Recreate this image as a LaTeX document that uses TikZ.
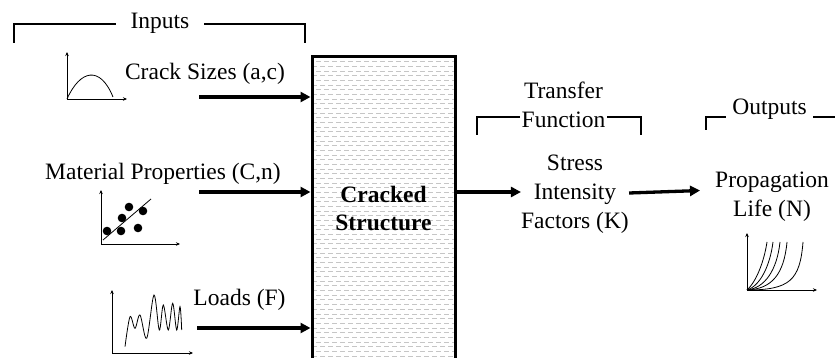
\documentclass[tikz,border=0pt]{standalone}
\usepackage{fontspec}
\setmainfont{Liberation Serif}
\usepackage{tikz}
\usetikzlibrary{arrows.meta,positioning}

\begin{document}
\begin{tikzpicture}[
    x=1pt, y=-1pt,
    txt/.style={inner sep=0pt, font=\fontsize{23.5}{29}\selectfont, align=center},
    structbox/.style={rectangle, draw=black, line width=3pt, minimum width=143pt, minimum height=303pt,
        font=\fontsize{23.5}{28}\selectfont\bfseries, align=center,
        path picture={\foreach \i in {1,...,66}{
            \pgfmathsetmacro\ph{mod(\i,2)*4}
            \draw[gray!45, line width=0.7pt, dash pattern=on 5pt off 3pt, dash phase=\ph pt]
                ([yshift=-\i*4.67pt]path picture bounding box.north west) -- ([yshift=-\i*4.67pt]path picture bounding box.north east);}}},
    arrow/.style={-{Triangle[length=10pt,width=10pt]}, line width=3.3pt},
    bracket/.style={line width=1.3pt},
    axis/.style={-{Stealth[length=4pt,width=3.5pt]}, line width=0.8pt},
    curve/.style={line width=0.8pt},
    dot/.style={circle, fill=black, inner sep=0pt, minimum size=8.6pt}
]
\useasboundingbox (0,0) rectangle (835,358);

% brackets
\draw[bracket] (14,43) -- (14,24) -- (305,24) -- (305,43);
\draw[bracket] (477,135) -- (477,117) -- (641,117) -- (641,135);
\draw[bracket] (706,130) -- (706,117) -- (835,117);

\node[txt, anchor=base, fill=white, inner xsep=15pt] (inputs) at (160,28.5) {Inputs};
\node[txt, fill=white, inner xsep=2pt] (transfer) at (563.5,104.7) {Transfer\\Function};
\node[txt, anchor=base, fill=white, inner xsep=6pt] (outputs) at (769.5,115) {Outputs};

% inputs
\node[txt, anchor=base] (crack) at (205,80) {Crack Sizes (a,c)};
\node[txt, anchor=base] (material) at (163,180) {Material Properties (C,n)};
\node[txt, anchor=base] (loads) at (239.5,305) {Loads (F)};

\node[structbox] (cs) at (383.5,208.5) {Cracked\\Structure};

\node[txt] (sif) at (575,194.5) {Stress\\Intensity\\Factors (K)};
\node[txt] (prop) at (772,197) {Propagation\\Life (N)};

\coordinate (crackin) at (199,97);
\coordinate (matin) at (199,192);
\coordinate (loadin) at (197,328);

\draw[arrow] (crackin) -- (cs.west |- crackin);
\draw[arrow] (matin) -- (cs.west |- matin);
\draw[arrow] (loadin) -- (cs.west |- loadin);
\draw[arrow] (cs.east |- 0,192) -- (sif.west |- 0,192);
\draw[arrow, shorten >=15pt] (sif.east |- 0,193) -- (prop.west |- 0,190);

% crack size sketch
\draw[axis] (67,99) -- (67,52);
\draw[axis] (67,99) -- (127,99);
\draw[curve] (67,99) .. controls (80,70) and (100,65) .. (113,97);

% material scatter sketch
\draw[axis] (101,244) -- (101,190);
\draw[axis] (101,244) -- (180,244);
\draw[curve] (103,240) -- (151,199);
\foreach \px/\py in {107/231, 121/231, 138/228, 122/218, 129/207, 143/211}
    \node[dot] at (\px,\py) {};

% load history sketch
\draw[axis] (112,353) -- (112,290);
\draw[axis] (112,353) -- (193,353);
\draw[curve] plot[smooth, tension=0.55] coordinates {(125,346.7) (130,316.7) (135,328.3) (140,315) (146.7,338.3)
    (154,295) (159.3,330) (163.3,305) (168.3,330) (172.7,303.3) (176.7,330) (180,306.7) (181.7,330)};

% propagation life sketch
\draw[axis] (747,290) -- (747,233);
\draw[axis] (747,290) -- (817,290);
\draw[curve] (747,290) .. controls (756,282) and (764,262) .. (767,242);
\draw[curve] (747,290) .. controls (760,286) and (770,266) .. (773,242);
\draw[curve] (747,290) .. controls (765,288) and (777,270) .. (780,242);
\draw[curve] (747,290) .. controls (772,289) and (784,274) .. (787,242);
\draw[curve] (747,290) .. controls (790,290) and (800,280) .. (803,242);
\end{tikzpicture}
\end{document}
